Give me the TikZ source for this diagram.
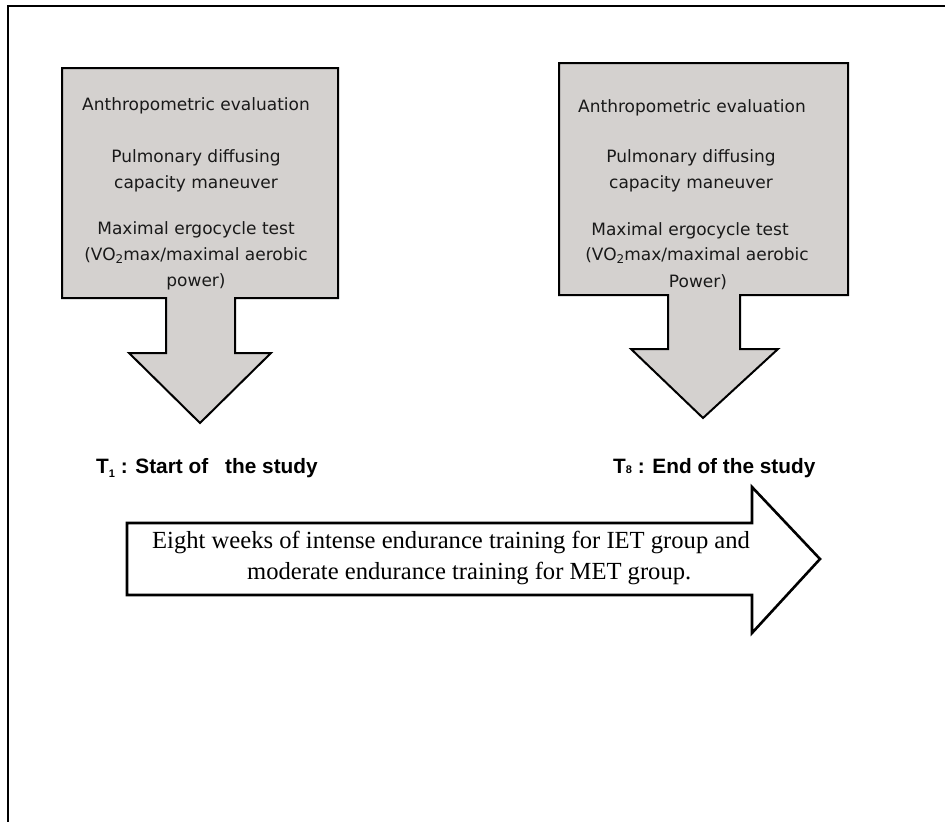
\documentclass[tikz,border=0pt]{standalone}
\usepackage{fontspec}
\setmainfont{Liberation Serif}
\newfontfamily\boxfont{DejaVu Sans}
\newfontfamily\labfont{Liberation Sans}
\definecolor{boxgray}{RGB}{212,209,207}
\begin{document}
\begin{tikzpicture}[x=1pt,y=-1pt,
  frameline/.style={line width=2.5pt,black},
  grayshape/.style={fill=boxgray,draw=black,line width=2pt,line join=miter},
  whiteshape/.style={fill=white,draw=black,line width=2.6pt,line join=miter},
  boxtxt/.style={anchor=base,inner sep=0pt,font=\boxfont\fontsize{17}{20}\selectfont,text=black!90},
  labtxt/.style={anchor=base west,inner sep=0pt,font=\labfont\bfseries\fontsize{20.8}{24}\selectfont},
  bigtxt/.style={anchor=base west,inner sep=0pt,font=\fontsize{24.6}{28}\selectfont}]
\useasboundingbox (0,0) rectangle (945,822);
\fill[white] (0,0) rectangle (945,822);
% outer frame
\coordinate (fa) at (945,6);
\coordinate (fb) at (8,6);
\coordinate (fc) at (8,822);
\draw[frameline] (fa) -- (fb) -- (fc);
% left box with down arrow
\draw[grayshape] (62,68) -- (338,68) -- (338,298) -- (235,298) -- (235,353) -- (271,353)
  -- (200,423) -- (129,353) -- (166,353) -- (166,298) -- (62,298) -- cycle;
% right box with down arrow
\draw[grayshape] (559,63) -- (848,63) -- (848,295) -- (740,295) -- (740,349) -- (778,349)
  -- (703,418) -- (631,349) -- (668,349) -- (668,295) -- (559,295) -- cycle;
% big right arrow
\draw[whiteshape] (127,523) -- (752,523) -- (752,487) -- (820,559) -- (752,633)
  -- (752,595) -- (127,595) -- cycle;
% left box text
\node[boxtxt] (l1) at (196,110) {Anthropometric evaluation};
\node[boxtxt] (l2) at (196,162) {Pulmonary diffusing};
\node[boxtxt] (l3) at (196,188) {capacity maneuver};
\node[boxtxt] (l4) at (196,234) {Maximal ergocycle test};
\node[boxtxt] (l5) at (196,260) {(VO\raisebox{-3.5pt}{\fontsize{12}{12}\selectfont 2}max/maximal aerobic};
\node[boxtxt] (l6) at (196,286) {power)};
% right box text
\node[boxtxt] (r1) at (692,112) {Anthropometric evaluation};
\node[boxtxt] (r2) at (691,162) {Pulmonary diffusing};
\node[boxtxt] (r3) at (691,188) {capacity maneuver};
\node[boxtxt] (r4) at (690,235) {Maximal ergocycle test};
\node[boxtxt] (r5) at (697,260) {(VO\raisebox{-3.5pt}{\fontsize{12}{12}\selectfont 2}max/maximal aerobic};
\node[boxtxt] (r6) at (698,287) {Power)};
% time labels
\node[labtxt] (t1) at (96,473) {T\raisebox{-4pt}{\fontsize{11}{11}\selectfont 1} : Start of\hspace{17pt}the study};
\node[labtxt] (t8) at (613,473) {T{\fontsize{11}{11}\selectfont 8} : End of the study};
% training text
\node[bigtxt] (e1) at (152,548) {Eight weeks of intense endurance training for IET group and};
\node[bigtxt] (e2) at (247,579) {moderate endurance training for MET group.};
\end{tikzpicture}
\end{document}
